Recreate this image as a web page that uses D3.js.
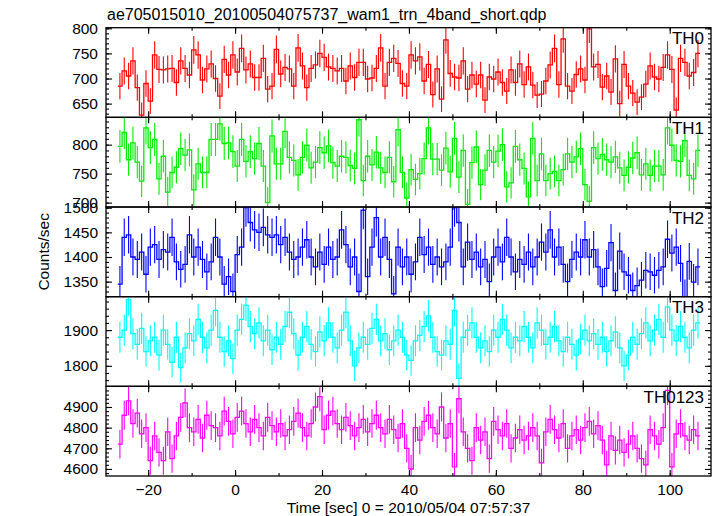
<!DOCTYPE html>
<html><head><meta charset="utf-8">
<script src="https://cdn.jsdelivr.net/npm/d3@7"></script>
<style>
body{margin:0;background:#fff}
text{font-family:"Liberation Sans",Arial,Helvetica,sans-serif}
</style>
</head><body>
<svg id="chart" width="717" height="516"></svg>
<script>
// ---- data (1 s bins, first bin starts at t = -27 s) ----
const binStart = -27;
const binWidth = 1;
const titleText = "ae705015010_20100504075737_wam1_trn_4band_short.qdp";
const xLabel = "Time [sec] 0 = 2010/05/04 07:57:37";
const yLabel = "Counts/sec";
const panelNames = ["TH0", "TH1", "TH2", "TH3", "TH0123"];
const panelColors = ["#ff0000", "#00ee00", "#0000ff", "#00ffff", "#ff00ff"];

const th0 = [685,715,705,735,682,627,690,655,747,718,717,719,720,692,735,720,707,757,747,697,719,729,700,665,738,707,747,713,760,717,729,702,702,740,679,685,758,709,722,719,685,761,725,682,
720,727,750,742,723,720,715,720,695,725,702,732,732,699,701,720,761,685,732,740,730,690,685,747,735,743,695,728,668,719,659,777,710,703,701,735,679,707,689,707,657,703,699,713,692,
675,717,692,729,688,723,687,667,669,695,727,760,688,779,685,675,708,719,697,799,723,728,683,705,673,739,650,728,685,671,653,663,689,725,703,699,722,747,718,637,740,732,705,712,750];
const th1 = [797,821,774,803,770,737,829,795,809,741,780,718,752,761,793,782,791,722,767,752,752,809,809,836,802,803,788,763,809,771,788,776,802,763,700,815,767,767,823,778,773,748,778,799,
760,770,795,786,798,769,763,780,778,764,759,843,738,780,765,787,760,752,778,736,826,752,708,757,740,750,776,829,775,775,756,794,753,811,744,790,697,769,796,731,756,790,770,789,800,
727,734,797,774,759,710,811,738,784,738,750,754,738,757,784,770,779,793,731,702,795,776,783,774,770,779,760,747,761,777,786,748,767,747,763,763,748,829,799,773,771,807,747,741,790];
const th2 = [1345,1440,1445,1400,1395,1410,1365,1420,1425,1395,1415,1410,1440,1390,1375,1385,1445,1400,1420,1395,1370,1390,1440,1400,1345,1360,1330,
1405,1420,1500,1470,1455,1450,1460,1445,1440,1445,1425,1440,1410,1395,1400,1420,1435,1400,1380,1410,1385,1420,1395,1400,1455,1425,1380,1400,1330,1495,1360,1420,1480,1400,1440,1395,1325,1420,1380,1400,1365,1390,1440,1405,1420,1385,1400,1380,1390,1420,1500,1470,1380,1430,1395,1410,1380,1395,1350,1400,1420,1390,1440,1400,1370,1395,1385,1410,1380,1400,1430,1410,1455,1400,1420,1385,1350,1395,1410,1400,1435,1400,1415,1380,
1340,1377,1429,1332,1412,1370,1363,1332,1342,1353,1373,1370,1363,1373,1380,1436,1408,1420,1387,1318,1391,1349,1380];
const th3 = [1880,1900,1985,1890,1860,1905,1840,1870,1880,1830,1900,1860,1810,1880,1795,1850,1890,1870,1930,1880,1850,1900,1955,1880,1840,1870,1820,
1900,1930,1970,1910,1890,1920,1870,1900,1845,1880,1860,1910,1950,1890,1830,1880,1910,1860,1840,1895,1870,1920,1880,1850,1900,1950,1870,1800,1850,1880,1860,1905,1930,1870,1890,1845,1870,1900,1880,1830,1815,1870,1885,1910,1940,1880,1840,1830,1870,1860,1955,1765,1880,1900,1920,1880,1850,1870,1840,1900,1880,1930,1900,1850,1880,1870,1910,1880,1850,1920,1900,1860,1880,1910,1870,1840,1880,1860,1830,1875,1900,1870,1890,1860,
1880,1840,1870,1895,1850,1800,1830,1880,1860,1890,1920,1870,1900,1930,1880,1965,1900,1870,1910,1880,1850,1900,1920];
const th0123 = [4720,4860,4930,4820,4870,4770,4800,4640,4760,4680,4640,4780,4650,4760,4850,4920,4800,4780,4840,4750,4860,4810,4800,4760,4880,4830,4770,
4850,4880,4820,4780,4840,4800,4760,4850,4810,4780,4820,4760,4790,4830,4870,4800,4760,4820,4900,4950,4790,4860,4880,4820,4790,4850,4810,4760,4800,4840,4780,4820,4860,4800,4770,4840,4790,4750,4820,4700,4600,4800,4740,4830,4860,4800,4770,4900,4750,4820,4610,4940,4780,4700,4640,4800,4740,4780,4650,4830,4790,4760,4820,4700,4750,4790,4740,4760,4800,4760,4630,4780,4840,4790,4750,4820,4700,4760,4790,4740,4800,4830,4770,4810,
4740,4620,4760,4690,4740,4680,4720,4760,4700,4650,4620,4790,4760,4720,4800,4980,4610,4770,4820,4760,4740,4790,4760];
const seriesValues = [th0, th1, th2, th3, th0123];

const yDomains = [[622.6, 801.2], [692.4, 847.1], [1319.5, 1501.4], [1742.6, 1993.5], [4566, 5000]];
const yMajorTicks = [[650, 700, 750, 800], [700, 750, 800], [1350, 1400, 1450, 1500], [1800, 1900], [4600, 4700, 4800, 4900]];
const yMinorSteps = [10, 10, 10, 20, 20];
const xDomain = [-29.7, 109.5];
const xMajorTicks = [-20, 0, 20, 40, 60, 80, 100];
const xMinorTicks = [-20, -10, 0, 10, 20, 30, 40, 50, 60, 70, 80, 90, 100];

// ---- layout ----
const svg = d3.select("#chart");
const plotL = 106, plotR = 711, plotT = 27.7, plotB = 476;
const ph = (plotB - plotT) / 5;
const x = d3.scaleLinear().domain(xDomain).range([plotL, plotR]);

svg.append("text").attr("x", 107).attr("y", 20).attr("font-size", 16).attr("fill", "#000").text(titleText);

panelNames.forEach((name, p) => {
  const pt = plotT + p * ph, pb = pt + ph;
  const y = d3.scaleLinear().domain(yDomains[p]).range([pb, pt]);
  const vals = seriesValues[p];
  const col = panelColors[p];
  const g = svg.append("g");
  const clipId = "clip" + p;
  svg.append("clipPath").attr("id", clipId).append("rect")
    .attr("x", plotL).attr("y", pt).attr("width", plotR - plotL).attr("height", ph);
  const dg = g.append("g").attr("clip-path", `url(#${clipId})`);

  // error bars (Poisson, 1 s bins)
  dg.selectAll("line.err").data(vals).join("line").attr("class", "err")
    .attr("x1", (v, i) => x(binStart + (i + 0.5) * binWidth))
    .attr("x2", (v, i) => x(binStart + (i + 0.5) * binWidth))
    .attr("y1", v => y(v - Math.sqrt(v)))
    .attr("y2", v => y(v + Math.sqrt(v)))
    .attr("stroke", col).attr("stroke-width", 1.1);

  // step line
  if (vals.length) {
    const pts = vals.map((v, i) => [binStart + i * binWidth, v]);
    pts.push([binStart + vals.length * binWidth, vals[vals.length - 1]]);
    const line = d3.line().x(d => x(d[0])).y(d => y(d[1])).curve(d3.curveStepAfter);
    dg.append("path").attr("d", line(pts)).attr("fill", "none")
      .attr("stroke", col).attr("stroke-width", 1.3);
  }

  // y axes
  const [d0, d1] = yDomains[p];
  const st = yMinorSteps[p];
  const minor = d3.range(Math.ceil(d0 / st) * st, d1, st);
  const yl = g.append("g").attr("transform", `translate(${plotL},0)`)
    .call(d3.axisLeft(y).tickValues(yMajorTicks[p]).tickSizeInner(-6).tickSizeOuter(0).tickPadding(8).tickFormat(d3.format("d")));
  yl.select(".domain").remove();
  yl.selectAll("text").attr("font-size", 15.5).attr("fill", "#000").attr("font-family", null);
  const ylm = g.append("g").attr("transform", `translate(${plotL},0)`)
    .call(d3.axisLeft(y).tickValues(minor).tickSizeInner(-3).tickSizeOuter(0).tickFormat(""));
  ylm.select(".domain").remove();
  const yr = g.append("g").attr("transform", `translate(${plotR},0)`)
    .call(d3.axisRight(y).tickValues(yMajorTicks[p]).tickSizeInner(-6).tickSizeOuter(0).tickFormat(""));
  yr.select(".domain").remove();
  const yrm = g.append("g").attr("transform", `translate(${plotR},0)`)
    .call(d3.axisRight(y).tickValues(minor).tickSizeInner(-3).tickSizeOuter(0).tickFormat(""));
  yrm.select(".domain").remove();

  // x ticks top & bottom
  [[d3.axisTop, pt], [d3.axisBottom, pb]].forEach(([ax, yy]) => {
    const a1 = g.append("g").attr("transform", `translate(0,${yy})`)
      .call(ax(x).tickValues(xMinorTicks).tickSizeInner(-3).tickSizeOuter(0).tickFormat(""));
    a1.select(".domain").remove();
    const a2 = g.append("g").attr("transform", `translate(0,${yy})`)
      .call(ax(x).tickValues(xMajorTicks).tickSizeInner(-6).tickSizeOuter(0).tickFormat(""));
    a2.select(".domain").remove();
  });

  g.selectAll(".tick line").attr("stroke", "#000").attr("stroke-width", 1.1);

  // frame
  g.append("rect").attr("x", plotL).attr("y", pt).attr("width", plotR - plotL).attr("height", ph)
    .attr("fill", "none").attr("stroke", "#000").attr("stroke-width", 1.3);

  // panel label
  g.append("text").attr("x", 704).attr("y", pt + 16.5).attr("text-anchor", "end")
    .attr("font-size", 17).attr("fill", "#000").text(name);
});

// x tick labels (bottom panel only)
const xl = svg.append("g").attr("transform", `translate(0,${plotB})`)
  .call(d3.axisBottom(x).tickValues(xMajorTicks).tickSize(0).tickPadding(8));
xl.select(".domain").remove();
xl.selectAll("text").attr("font-size", 15.5).attr("fill", "#000").attr("font-family", null);

svg.append("text").attr("x", (plotL + plotR) / 2).attr("y", 513).attr("text-anchor", "middle")
  .attr("font-size", 15.5).attr("fill", "#000").text(xLabel);
svg.append("text").attr("transform", `translate(49,${(plotT + plotB) / 2}) rotate(-90)`)
  .attr("text-anchor", "middle").attr("font-size", 15.5).attr("fill", "#000").text(yLabel);
</script>
</body></html>
